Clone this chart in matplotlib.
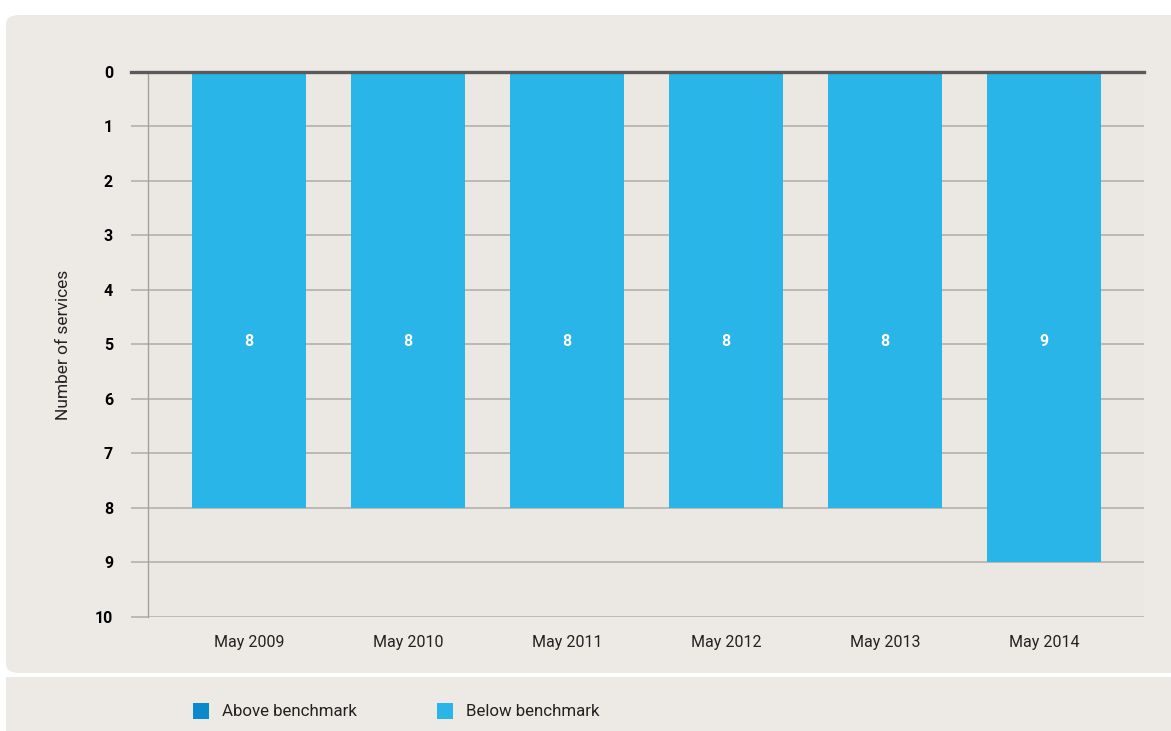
import matplotlib
matplotlib.use("Agg")
import matplotlib.pyplot as plt
from matplotlib.patches import FancyBboxPatch, Rectangle

# Services below benchmark, by survey date
periods = ["May 2009", "May 2010", "May 2011", "May 2012", "May 2013", "May 2014"]
below = [8, 8, 8, 8, 8, 9]
y_ticks = list(range(0, 11))
legend_labels = ["Above benchmark", "Below benchmark"]

ABOVE_COLOR = "#0a8acb"
BELOW_COLOR = "#29b5e8"
PANEL = "#edeae6"
PLOT_BG = "#ebe8e4"
GRID = "#b3b1ae"

plt.rcParams["font.family"] = ["Roboto", "DejaVu Sans"]

fig = plt.figure(figsize=(11.71, 7.31), dpi=100)
fig.patch.set_facecolor("white")

# Background panels: chart area with rounded corner, legend strip below
fig.patches.append(FancyBboxPatch(
    (0.0051, 0.0793), 1.2, 0.9002,
    boxstyle="round,pad=0,rounding_size=0.012",
    transform=fig.transFigure, facecolor=PANEL, edgecolor="none", zorder=-2))
fig.patches.append(Rectangle(
    (0.0051, 0.0), 1.2, 0.0739,
    transform=fig.transFigure, facecolor=PANEL, edgecolor="none", zorder=-2))

ax = fig.add_axes([0.1264, 0.156, 0.8505, 0.7455])
ax.set_facecolor(PLOT_BG)

x = list(range(len(periods)))
ax.bar(x, below, width=0.717, color=BELOW_COLOR, zorder=3)

for xi, v in zip(x, below):
    ax.text(xi, 4.95, str(v), ha="center", va="center", color="white",
            fontsize=11.5, fontweight="bold", zorder=4)

ax.set_xlim(-0.635, 5.63)
ax.set_ylim(10, 0)
ax.set_yticks(y_ticks)
ax.set_yticklabels([str(t) for t in y_ticks], fontsize=11.5, fontweight="bold")
ax.set_xticks(x)
ax.set_xticklabels(periods, fontsize=11.5, color="#222222")

ax.tick_params(axis="y", length=12.2, width=1.2, color=GRID, pad=13)
ax.tick_params(axis="x", length=0, pad=13)
ax.yaxis.grid(True, color=GRID, linewidth=1.2, zorder=1)
ax.set_axisbelow(True)

for side in ["top", "right", "bottom"]:
    ax.spines[side].set_visible(False)
ax.spines["left"].set_color("#a3a19f")
ax.spines["left"].set_linewidth(1.0)

# Dark baseline at zero, running out over the tick marks
ax.plot([-0.0171, 1], [0, 0], transform=ax.get_yaxis_transform(),
        color="#5a5a5a", linewidth=2.4, clip_on=False, zorder=5)

ax.set_ylabel("Number of services", fontsize=12.5, color="#222222", labelpad=17)

# Legend along the lower strip
legend_x = [193 / 1171, 437 / 1171]
legend_colors = [ABOVE_COLOR, BELOW_COLOR]
for lx, label, c in zip(legend_x, legend_labels, legend_colors):
    fig.patches.append(Rectangle((lx, 1 - 719 / 731), 16 / 1171, 16 / 731,
                                 transform=fig.transFigure, facecolor=c,
                                 edgecolor="none", zorder=2))
    fig.text(lx + 29 / 1171, 1 - 712 / 731, label, fontsize=12.2,
             color="#222222", va="center", ha="left")

fig.savefig("out.png", dpi=100, facecolor=fig.get_facecolor())
